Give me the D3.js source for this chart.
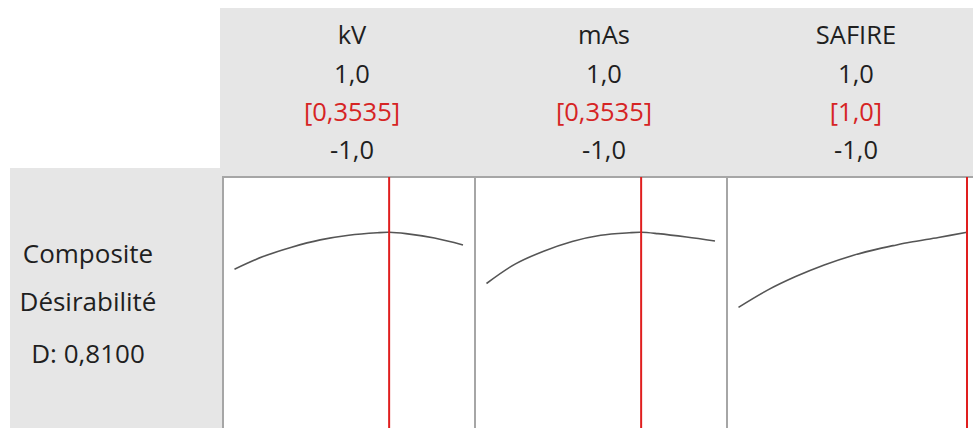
<!DOCTYPE html>
<html>
<head>
<meta charset="utf-8">
<script src="https://cdn.jsdelivr.net/npm/d3@7"></script>
<style>
  html, body { margin: 0; padding: 0; background: #ffffff; }
  svg { display: block; }
  text { font-family: "Open Sans", "Noto Sans", sans-serif; }
</style>
</head>
<body>
<script>
// ---- data ----
const factors = ["kV", "mAs", "SAFIRE"];
const highLabels = ["1,0", "1,0", "1,0"];
const currentLabels = ["[0,3535]", "[0,3535]", "[1,0]"];
const lowLabels = ["-1,0", "-1,0", "-1,0"];
const currentValues = [0.3535, 0.3535, 1.0];
const xGrid = [-1, -0.75, -0.5, -0.25, 0, 0.25, 0.3535, 0.5, 0.75, 1];
const dKV     = [0.644, 0.701, 0.743, 0.776, 0.797, 0.808, 0.810, 0.804, 0.784, 0.753];
const dMAs    = [0.580, 0.667, 0.725, 0.769, 0.797, 0.808, 0.810, 0.804, 0.789, 0.771];
const dSAFIRE = [0.473, 0.549, 0.611, 0.663, 0.706, 0.739, 0.750, 0.765, 0.787, 0.810];
const seriesValues = [dKV, dMAs, dSAFIRE];
const rowLabels = ["Composite", "Désirabilité", "D: 0,8100"];

// ---- layout ----
const W = 973, H = 428;
const panelW = 252, panelTop = 177, firstLeft = 223;
const svg = d3.select("body").append("svg").attr("width", W).attr("height", H);

// gray backgrounds
svg.append("rect").attr("x", 220).attr("y", 8).attr("width", W - 220).attr("height", 170).attr("fill", "#e6e6e6");
svg.append("rect").attr("x", 10).attr("y", 168).attr("width", 214).attr("height", H - 168).attr("fill", "#e6e6e6");

const yScale = d3.scaleLinear().domain([0, 1]).range([412.6, 190]);

factors.forEach((f, i) => {
  const left = firstLeft + i * panelW;
  const cx = left + panelW / 2 + 3;
  const g = svg.append("g");
  // header text
  const rows = [
    { t: f, y: 44, c: "#1f1f1f" },
    { t: highLabels[i], y: 83, c: "#1f1f1f" },
    { t: currentLabels[i], y: 121, c: "#d62424" },
    { t: lowLabels[i], y: 159, c: "#1f1f1f" }
  ];
  rows.forEach(r => {
    g.append("text").attr("x", cx).attr("y", r.y).attr("text-anchor", "middle")
      .attr("font-size", 25.5).attr("fill", r.c).text(r.t);
  });
  // panel
  g.append("rect").attr("x", left).attr("y", panelTop).attr("width", panelW).attr("height", H - panelTop + 20)
    .attr("fill", "#ffffff").attr("stroke", "#a6a6a6").attr("stroke-width", 2);

  const xScale = d3.scaleLinear().domain([-1, 1]).range([left + 11.5, left + 240]);
  const pts = xGrid.map((x, k) => [x, seriesValues[i][k]]);
  const line = d3.line().x(d => xScale(d[0])).y(d => yScale(d[1])).curve(d3.curveCatmullRom.alpha(0.5));
  g.append("path").attr("d", line(pts)).attr("fill", "none").attr("stroke", "#555555").attr("stroke-width", 1.6);

  // current setting line
  g.append("line").attr("x1", xScale(currentValues[i])).attr("x2", xScale(currentValues[i]))
    .attr("y1", panelTop).attr("y2", H).attr("stroke", "#e01e1e").attr("stroke-width", 2);
});

// left labels
const lbl = [263, 311, 363];
rowLabels.forEach((t, k) => {
  svg.append("text").attr("x", 88).attr("y", lbl[k]).attr("text-anchor", "middle")
    .attr("font-size", 26).attr("fill", "#1f1f1f").text(t);
});
</script>
</body>
</html>
